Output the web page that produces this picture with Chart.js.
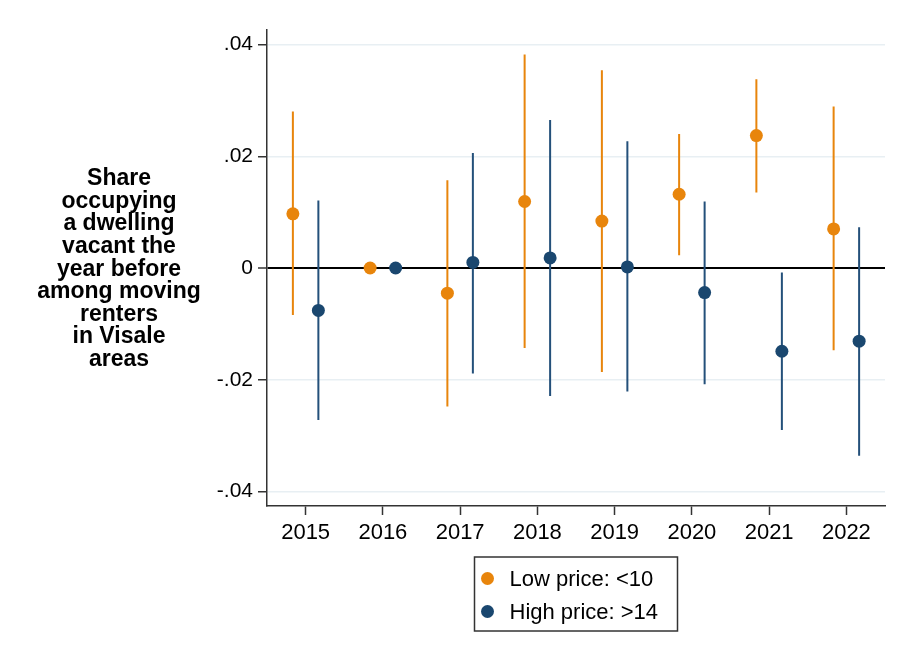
<!DOCTYPE html>
<html>
<head>
<meta charset="utf-8">
<script src="https://cdn.jsdelivr.net/npm/chart.js@4.4.1/dist/chart.umd.min.js"></script>
<style>
html,body{margin:0;padding:0;background:#ffffff;}
#wrap{width:897px;height:655px;position:relative;}
</style>
</head>
<body>
<div id="wrap"><canvas id="c" width="897" height="655"></canvas></div>
<script>
// ---- data ----
const years = [2015, 2016, 2017, 2018, 2019, 2020, 2021, 2022];
const seriesNames = ['Low price: <10', 'High price: >14'];
const lowEst  = [0.0097, 0.0000, -0.0045, 0.0119, 0.0084, 0.0132, 0.0237, 0.0070];
const lowLo   = [-0.0084, 0.0000, -0.0248, -0.0143, -0.0186, 0.0023, 0.0135, -0.0147];
const lowHi   = [0.0280, 0.0000, 0.0157, 0.0382, 0.0354, 0.0240, 0.0338, 0.0289];
const highEst = [-0.0076, 0.0000, 0.0010, 0.0018, 0.0002, -0.0044, -0.0149, -0.0131];
const highLo  = [-0.0272, 0.0000, -0.0189, -0.0229, -0.0221, -0.0208, -0.0290, -0.0336];
const highHi  = [0.0121, 0.0000, 0.0206, 0.0265, 0.0227, 0.0119, -0.0008, 0.0073];
const yTicks = [-0.04, -0.02, 0, 0.02, 0.04];
const yTickLabels = ['-.04', '-.02', '0', '.02', '.04'];
const yTitleLines = ['Share', 'occupying', 'a dwelling', 'vacant the', 'year before', 'among moving', 'renters', 'in Visale', 'areas'];

// ---- styling ----
const ORANGE = '#E8850C';
const BLUE = '#1A476F';
const FONT = '"Liberation Sans", Arial, Helvetica, sans-serif';
const OFF = 0.165;

function pointData(off, est) {
  return years.map((y, i) => ({ x: y + off, y: est[i] }));
}
function ciData(off, lo, hi) {
  const d = [];
  years.forEach((y, i) => {
    d.push({ x: y + off, y: lo[i] }, { x: y + off, y: hi[i] }, { x: y + off, y: null });
  });
  return d;
}

const overlay = {
  id: 'overlay',
  afterDraw(chart) {
    const ctx = chart.ctx;
    const ca = chart.chartArea;
    ctx.save();
    // y title (horizontal, multi-line)
    ctx.font = 'bold 23px ' + FONT;
    ctx.fillStyle = '#000';
    ctx.textAlign = 'center';
    ctx.textBaseline = 'alphabetic';
    const mid = (ca.top + ca.bottom) / 2;
    const n = yTitleLines.length;
    yTitleLines.forEach((t, i) => {
      ctx.fillText(t, 119, mid + (i - (n - 1) / 2) * 22.6 + 7.5);
    });
    // legend
    const w = 203, h = 74;
    const left = (ca.left + ca.right) / 2 - w / 2;
    const top = 557;
    ctx.fillStyle = '#fff';
    ctx.fillRect(left, top, w, h);
    ctx.strokeStyle = '#333';
    ctx.lineWidth = 1.5;
    ctx.strokeRect(left, top, w, h);
    const cols = [ORANGE, BLUE];
    const rows = [top + 21.5, top + 54.5];
    ctx.font = '22px ' + FONT;
    ctx.textAlign = 'left';
    ctx.textBaseline = 'middle';
    seriesNames.forEach((name, i) => {
      ctx.beginPath();
      ctx.arc(left + 13, rows[i], 6.5, 0, Math.PI * 2);
      ctx.fillStyle = cols[i];
      ctx.fill();
      ctx.fillStyle = '#000';
      ctx.fillText(name, left + 35, rows[i] + 1);
    });
    ctx.restore();
  }
};

new Chart(document.getElementById('c'), {
  type: 'scatter',
  data: {
    datasets: [
      { label: seriesNames[0], data: pointData(-OFF, lowEst), backgroundColor: ORANGE, borderColor: ORANGE,
        borderWidth: 0, pointRadius: 6.5, pointHoverRadius: 6.5, order: 0 },
      { label: seriesNames[1], data: pointData(OFF, highEst), backgroundColor: BLUE, borderColor: BLUE,
        borderWidth: 0, pointRadius: 6.5, pointHoverRadius: 6.5, order: 1 },
      { label: 'ci0', data: ciData(-OFF, lowLo, lowHi), showLine: true, spanGaps: false, borderColor: ORANGE,
        borderWidth: 2, borderCapStyle: 'butt', pointRadius: 0, pointHoverRadius: 0, order: 2 },
      { label: 'ci1', data: ciData(OFF, highLo, highHi), showLine: true, spanGaps: false, borderColor: '#24507A',
        borderWidth: 2, borderCapStyle: 'butt', pointRadius: 0, pointHoverRadius: 0, order: 3 }
    ]
  },
  options: {
    responsive: false,
    animation: false,
    events: [],
    layout: { padding: { left: 0, right: 12, top: 30, bottom: 0 } },
    plugins: { legend: { display: false }, tooltip: { enabled: false }, title: { display: false } },
    scales: {
      x: {
        type: 'linear',
        min: 2014.5,
        max: 2022.5,
        afterBuildTicks: ax => { ax.ticks = years.map(v => ({ value: v })); },
        afterFit: s => { s.height = 149; },
        ticks: {
          callback: v => String(v),
          font: { size: 22, family: FONT },
          color: '#000',
          padding: 5,
          maxRotation: 0,
          autoSkip: false
        },
        grid: { drawOnChartArea: false, drawTicks: true, tickLength: 9, tickColor: '#333', tickWidth: 1.5 },
        border: { display: true, color: '#333', width: 1.5 }
      },
      y: {
        type: 'linear',
        min: -0.0426,
        max: 0.0426,
        afterBuildTicks: ax => { ax.ticks = yTicks.map(v => ({ value: v })); },
        afterFit: s => { s.width = 267; },
        ticks: {
          callback: (v, i) => yTickLabels[i],
          font: { size: 21, family: FONT },
          color: '#000',
          padding: 5
        },
        grid: {
          color: c => (c.tick && c.tick.value === 0) ? '#000' : '#E8EFF3',
          lineWidth: c => (c.tick && c.tick.value === 0) ? 2 : 1.5,
          drawTicks: true,
          tickLength: 9,
          tickColor: '#333',
          tickWidth: 1.5
        },
        border: { display: true, color: '#333', width: 1.5 }
      }
    }
  },
  plugins: [overlay]
});
</script>
</body>
</html>
